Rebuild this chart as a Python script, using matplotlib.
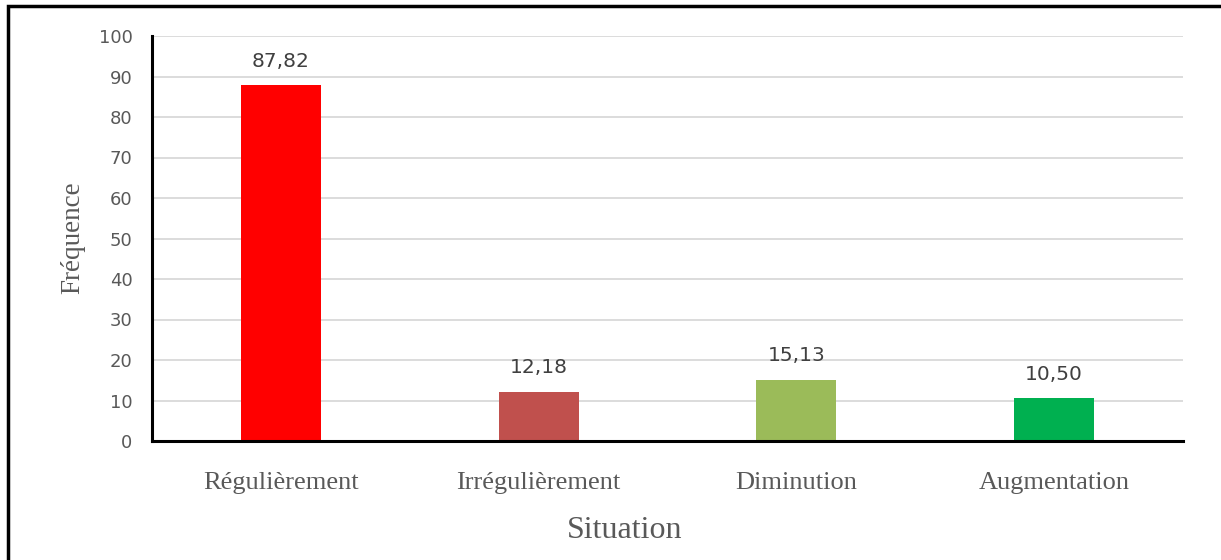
import matplotlib

matplotlib.use("Agg")

import matplotlib.pyplot as plt
import numpy as np

situations = ["Régulièrement", "Irrégulièrement", "Diminution", "Augmentation"]
frequences = [87.82, 12.18, 15.13, 10.50]
bar_colors = ["#FF0000", "#C0504D", "#9BBB59", "#00B050"]
y_ticks = list(range(0, 101, 10))

fig = plt.figure(figsize=(12.21, 5.6), dpi=100)
ax = fig.add_axes([152 / 1221, 1 - 441 / 560, 1031 / 1221, 405 / 560])

x = np.arange(len(situations))
ax.bar(x, frequences, width=0.31, color=bar_colors, zorder=2)
for xi, v in zip(x, frequences):
    ax.annotate(f"{v:.2f}".replace(".", ","), (xi, v), textcoords="offset points",
                xytext=(0, 10.5), ha="center", va="bottom", fontsize=14.5,
                color="#404040", family="DejaVu Sans")

ax.set_xlim(-0.5, len(situations) - 0.5)
ax.set_ylim(0, 100)
ax.set_yticks(y_ticks)
ax.set_yticklabels([str(t) for t in y_ticks], fontsize=13, color="#595959")
ax.set_xticks(x)
ax.set_xticklabels(situations, fontsize=19, color="#595959", family="Liberation Serif")
ax.tick_params(axis="both", length=0)
ax.tick_params(axis="y", pad=14)
ax.tick_params(axis="x", pad=22)
ax.grid(axis="y", color="#D9D9D9", linewidth=1.3, zorder=0)
ax.set_axisbelow(True)
for side in ("top", "right"):
    ax.spines[side].set_visible(False)
for side in ("left", "bottom"):
    ax.spines[side].set_linewidth(2.2)
    ax.spines[side].set_color("black")
    ax.spines[side].set_zorder(3)

ax.set_xlabel("Situation", fontsize=23, color="#595959", family="Liberation Serif")
ax.xaxis.set_label_coords((625 - 152) / 1031, -(531 - 441) / 405, transform=ax.transAxes)
ax.xaxis.label.set_va("center")
ax.set_ylabel("Fréquence", fontsize=19.5, color="#595959", family="Liberation Serif")
ax.yaxis.set_label_coords(-(152 - 73) / 1031, (441 - 238) / 405, transform=ax.transAxes)
ax.yaxis.label.set_va("center")

# frame round the chart area
fig.patches.append(plt.Rectangle((8 / 1221, -0.1), 1.2, 1 - 6 / 560 + 0.1,
                                 transform=fig.transFigure, fill=False,
                                 edgecolor="black", linewidth=2.5))

fig.savefig("out.png", dpi=100)
